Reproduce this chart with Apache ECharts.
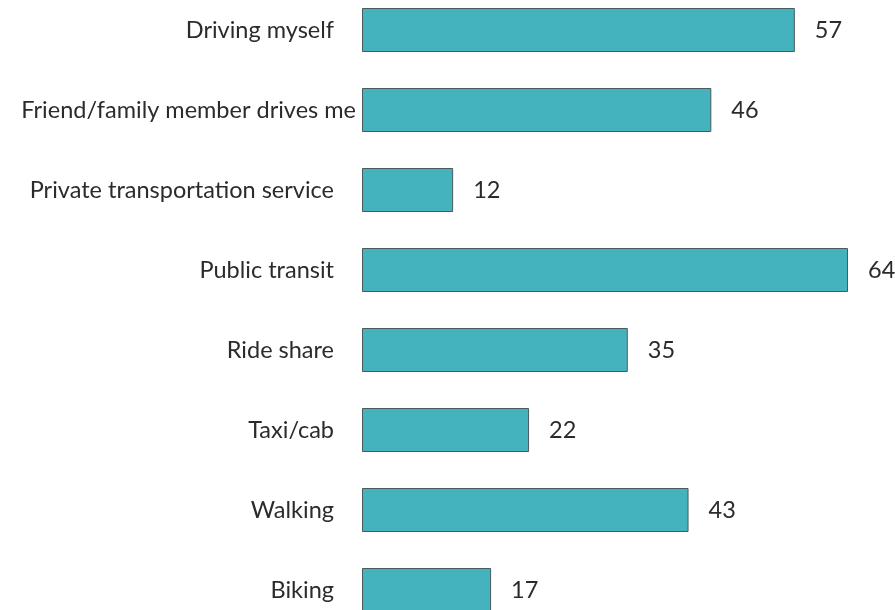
<!DOCTYPE html>
<html>
<head>
<meta charset="utf-8">
<script src="https://cdn.jsdelivr.net/npm/echarts@6/dist/echarts.min.js"></script>
<style>
  html, body { margin: 0; padding: 0; background: #fff; overflow: hidden; }
  #chart { width: 895px; height: 650px; margin-top: -10px; }
</style>
</head>
<body>
<div id="chart"></div>
<script>
var categories = [
    'Driving myself',
    'Friend/family member drives me',
    'Private transportation service',
    'Public transit',
    'Ride share',
    'Taxi/cab',
    'Walking',
    'Biking'
];
var values = [57, 46, 12, 64, 35, 22, 43, 17];

var myChart = echarts.init(document.getElementById('chart'));

var option = {
    animation: false,
    grid: {
        left: 362,
        width: 486,
        top: 0,
        height: 640,
        containLabel: false
    },
    xAxis: {
        type: 'value',
        min: 0,
        max: 64,
        show: false
    },
    yAxis: {
        type: 'category',
        inverse: true,
        data: categories,
        axisLine: { show: false },
        axisTick: { show: false },
        axisLabel: {
            margin: 6,
            color: '#2b2b2b',
            fontFamily: 'Lato',
            fontSize: 23.5,
            // the friend/family label runs nearly up to its bar, the others sit further left
            formatter: function (value, index) {
                return index === 1 ? '{w|' + value + '}' : '{n|' + value + '}';
            },
            rich: {
                w: { fontFamily: 'Lato', fontSize: 23.5, color: '#2b2b2b', padding: [0, 0, 0, 0] },
                n: { fontFamily: 'Lato', fontSize: 23.5, color: '#2b2b2b', padding: [0, 22, 0, 0] }
            }
        }
    },
    series: [{
        type: 'bar',
        data: values,
        barWidth: 44,
        itemStyle: {
            color: '#45b3be',
            borderColor: '#4b5a5c',
            borderWidth: 1
        },
        label: {
            show: true,
            position: 'right',
            distance: 20,
            color: '#2b2b2b',
            fontFamily: 'Lato',
            fontSize: 23.5
        }
    }]
};

myChart.setOption(option);
</script>
</body>
</html>
